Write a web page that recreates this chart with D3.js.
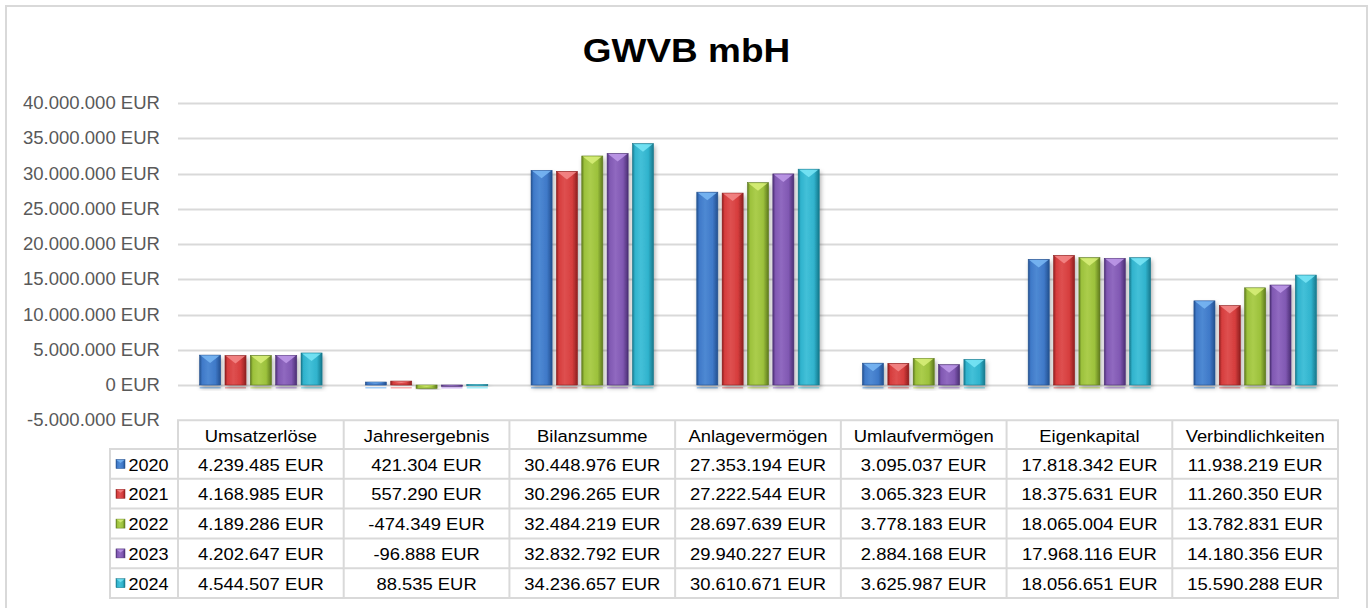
<!DOCTYPE html>
<html>
<head>
<meta charset="utf-8">
<script src="https://cdn.jsdelivr.net/npm/d3@7"></script>
<style>
  body { margin: 0; background: #fff; }
  svg { display: block; font-family: Arial, "Liberation Sans", sans-serif; }
</style>
</head>
<body>
<script>
// Chart data
const categories = ["Umsatzerlöse", "Jahresergebnis", "Bilanzsumme", "Anlagevermögen", "Umlaufvermögen", "Eigenkapital", "Verbindlichkeiten"];
const years = ["2020", "2021", "2022", "2023", "2024"];
const values2020 = [4239485, 421304, 30448976, 27353194, 3095037, 17818342, 11938219];
const values2021 = [4168985, 557290, 30296265, 27222544, 3065323, 18375631, 11260350];
const values2022 = [4189286, -474349, 32484219, 28697639, 3778183, 18065004, 13782831];
const values2023 = [4202647, -96888, 32832792, 29940227, 2884168, 17968116, 14180356];
const values2024 = [4544507, 88535, 34236657, 30610671, 3625987, 18056651, 15590288];
const yTicks = [-5000000, 0, 5000000, 10000000, 15000000, 20000000, 25000000, 30000000, 35000000, 40000000];
const title = "GWVB mbH";

const seriesValues = [values2020, values2021, values2022, values2023, values2024];

// Colours per year: base, dark edge, light bevel
const palette = [
  { base: "#3f79c8", dark: "#23508f", light: "#7ab8f5" },
  { base: "#d63d3d", dark: "#8e1f1f", light: "#f58a8a" },
  { base: "#9cc13c", dark: "#5e7a1e", light: "#d9f07a" },
  { base: "#8058b2", dark: "#4b2f74", light: "#bf9bea" },
  { base: "#30b3cd", dark: "#17788c", light: "#7ae6f7" }
];

const width = 1370;
const height = 608;

// German number format
const de = d3.formatLocale({ decimal: ",", thousands: ".", grouping: [3], currency: ["", " EUR"], minus: "-" });
const fmt = d => de.format(",.0f")(d) + " EUR";

const plot = { left: 178, right: 1338, top: 103, zero: 385 };

// The reference text is slightly wider than Arial, so stretch it a bit.
function placeText(sel, x, y, sx) {
  return sel.attr("x", 0).attr("y", 0)
    .attr("transform", (d, i) => `translate(${typeof x === "function" ? x(d, i) : x},${typeof y === "function" ? y(d, i) : y}) scale(${sx},1)`);
}

const svg = d3.select("body").append("svg")
  .attr("width", width)
  .attr("height", height);

const defs = svg.append("defs");

// Horizontal gradients for the bevelled bars
palette.forEach((p, i) => {
  const grad = defs.append("linearGradient")
    .attr("id", "grad" + i)
    .attr("x1", 0).attr("x2", 1).attr("y1", 0).attr("y2", 0);
  grad.append("stop").attr("offset", "0%").attr("stop-color", p.dark);
  grad.append("stop").attr("offset", "12%").attr("stop-color", p.base);
  grad.append("stop").attr("offset", "40%").attr("stop-color", d3.interpolateRgb(p.base, p.light)(0.25));
  grad.append("stop").attr("offset", "75%").attr("stop-color", p.base);
  grad.append("stop").attr("offset", "100%").attr("stop-color", p.dark);
});

const shadow = defs.append("filter").attr("id", "shadow")
  .attr("x", "-30%").attr("y", "-10%").attr("width", "160%").attr("height", "130%");
shadow.append("feDropShadow")
  .attr("dx", 1.5).attr("dy", 3).attr("stdDeviation", 2)
  .attr("flood-color", "#000").attr("flood-opacity", 0.3);

// Outer border
svg.append("rect")
  .attr("x", 6).attr("y", 6)
  .attr("width", 1361).attr("height", 640)
  .attr("fill", "#fff")
  .attr("stroke", "#d9d9d9")
  .attr("stroke-width", 2);

// Title
svg.append("text")
  .call(placeText, 686.5, 61.5, 1.12)
  .attr("text-anchor", "middle")
  .style("font-size", "33px")
  .style("font-weight", "bold")
  .attr("fill", "#000")
  .text(title);

// Scales
const y = d3.scaleLinear()
  .domain([-5000000, 40000000])
  .range([plot.zero + (plot.zero - plot.top) / 8, plot.top]);

const x0 = d3.scaleBand()
  .domain(categories)
  .range([plot.left, plot.right]);

const groupWidth = 126.5;
const x1 = d3.scaleBand()
  .domain(years)
  .range([(x0.bandwidth() - groupWidth) / 2, (x0.bandwidth() + groupWidth) / 2])
  .paddingInner(0.17)
  .paddingOuter(0.08);

// Gridlines and y tick labels
const yAxis = svg.append("g");
yAxis.selectAll("line")
  .data(yTicks.filter(t => t >= 0))
  .enter()
  .append("line")
  .attr("x1", plot.left)
  .attr("x2", plot.right)
  .attr("y1", d => Math.round(y(d)) + 0.5)
  .attr("y2", d => Math.round(y(d)) + 0.5)
  .attr("stroke", "#d9d9d9")
  .attr("stroke-width", 2);

yAxis.selectAll("text")
  .data(yTicks)
  .enter()
  .append("text")
  .call(placeText, 160, d => y(d) + 6, 1.06)
  .attr("text-anchor", "end")
  .style("font-size", "17.5px")
  .attr("fill", "#595959")
  .text(fmt);

// Bars
const barData = [];
categories.forEach((c, ci) => {
  years.forEach((yr, si) => {
    barData.push({ cat: c, year: yr, si: si, value: seriesValues[si][ci] });
  });
});

const bars = svg.append("g").selectAll("g.bar")
  .data(barData)
  .enter()
  .append("g")
  .attr("class", "bar")
  .attr("transform", d => `translate(${x0(d.cat) + x1(d.year)},0)`);

// Thin reflection line under each bar
bars.append("rect")
  .attr("x", 0)
  .attr("y", y(0) + 2)
  .attr("width", x1.bandwidth())
  .attr("height", 1.5)
  .attr("fill", d => palette[d.si].light)
  .attr("opacity", 0.7);

bars.append("rect")
  .attr("x", 0)
  .attr("y", d => y(Math.max(0, d.value)))
  .attr("width", x1.bandwidth())
  .attr("height", d => Math.max(1.5, Math.abs(y(d.value) - y(0))))
  .attr("fill", d => `url(#grad${d.si})`)
  .attr("stroke", d => palette[d.si].dark)
  .attr("stroke-width", 0.6)
  .attr("filter", "url(#shadow)");

// Bevel triangle at the top of each bar
bars.append("path")
  .attr("d", d => {
    const w = x1.bandwidth();
    const top = y(Math.max(0, d.value));
    const h = Math.abs(y(d.value) - y(0));
    const th = Math.min(8, h * 0.5);
    return `M1,${top + 0.5} L${w - 1},${top + 0.5} L${w / 2},${top + th} Z`;
  })
  .attr("fill", d => palette[d.si].light)
  .attr("opacity", 0.85);

// Data table
const table = svg.append("g");
const headerTop = y(-5000000);
const headerBottom = 449;
const rowH = 29.8;
const tableBottom = headerBottom + rowH * years.length;
const legendLeft = 110;
const lineColor = "#d9d9d9";

const hLines = [
  { y: headerTop, x1: plot.left, x2: plot.right },
  { y: headerBottom, x1: legendLeft, x2: plot.right }
];
years.forEach((yr, i) => hLines.push({ y: headerBottom + rowH * (i + 1), x1: legendLeft, x2: plot.right }));

table.selectAll("line.h")
  .data(hLines)
  .enter()
  .append("line")
  .attr("class", "h")
  .attr("x1", d => d.x1 - 1)
  .attr("x2", d => d.x2 + 1)
  .attr("y1", d => d.y)
  .attr("y2", d => d.y)
  .attr("stroke", lineColor)
  .attr("stroke-width", 2);

const vLines = [{ x: legendLeft, y1: headerBottom }];
categories.forEach(c => vLines.push({ x: x0(c), y1: headerTop }));
vLines.push({ x: plot.right, y1: headerTop });

table.selectAll("line.v")
  .data(vLines)
  .enter()
  .append("line")
  .attr("class", "v")
  .attr("x1", d => d.x)
  .attr("x2", d => d.x)
  .attr("y1", d => d.y1)
  .attr("y2", tableBottom)
  .attr("stroke", lineColor)
  .attr("stroke-width", 2);

// Header labels
table.selectAll("text.head")
  .data(categories)
  .enter()
  .append("text")
  .attr("class", "head")
  .call(placeText, d => x0(d) + x0.bandwidth() / 2, 441.5, 1.07)
  .attr("text-anchor", "middle")
  .style("font-size", "17.2px")
  .attr("fill", "#000")
  .text(d => d);

// Legend keys + values
years.forEach((yr, si) => {
  const rowY = headerBottom + rowH * si;
  table.append("rect")
    .attr("x", 116)
    .attr("y", rowY + 10.5)
    .attr("width", 9)
    .attr("height", 9)
    .attr("fill", `url(#grad${si})`)
    .attr("stroke", palette[si].dark)
    .attr("stroke-width", 0.5);
  table.append("path")
    .attr("d", `M116.5,${rowY + 11} L124.5,${rowY + 11} L120.5,${rowY + 14} Z`)
    .attr("fill", palette[si].light)
    .attr("opacity", 0.8);
  table.append("text")
    .call(placeText, 128.5, rowY + 21.5, 1.05)
    .style("font-size", "17.2px")
    .attr("fill", "#000")
    .text(yr);

  table.selectAll(null)
    .data(categories)
    .enter()
    .append("text")
    .call(placeText, d => x0(d) + x0.bandwidth() / 2, rowY + 21.5, 1.07)
    .attr("text-anchor", "middle")
    .style("font-size", "17.2px")
    .attr("fill", "#000")
    .text((d, ci) => fmt(seriesValues[si][ci]));
});
</script>
</body>
</html>
